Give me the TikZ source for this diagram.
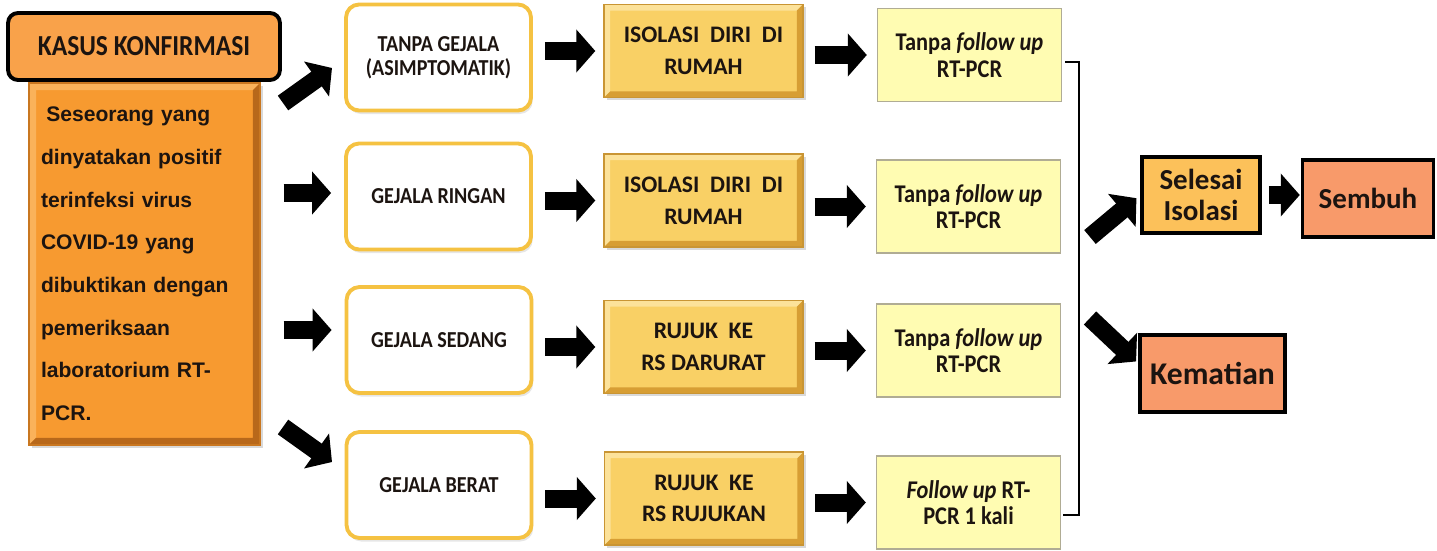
\documentclass[tikz,border=0pt]{standalone}
\usepackage{fontspec}
\setmainfont{Carlito}
\newfontfamily\narrowcal[FakeStretch=0.88]{Carlito}
\newfontfamily\descfont{Liberation Sans}
\usetikzlibrary{arrows.meta,shadows,calc}
\definecolor{ttlfill}{HTML}{F9A24A}
\definecolor{descfill}{HTML}{F79A30}
\definecolor{desclight}{HTML}{FAB25A}
\definecolor{descdark}{HTML}{B8681A}
\definecolor{descedge}{HTML}{C97720}
\definecolor{wbedge}{HTML}{F5C242}
\definecolor{goldfill}{HTML}{F9D065}
\definecolor{goldlight}{HTML}{FCE29A}
\definecolor{golddark}{HTML}{D79E34}
\definecolor{goldedge}{HTML}{C99534}
\definecolor{lyfill}{HTML}{FFFCB2}
\definecolor{lyedge}{HTML}{B0AC94}
\definecolor{selfill}{HTML}{FCC15A}
\definecolor{salfill}{HTML}{F89A6A}
\definecolor{txt}{HTML}{1C1410}
\begin{document}
\begin{tikzpicture}[x=0.02cm,y=-0.02cm,
  bevel/.style n args={3}{path picture={
    \def\bw{#3}
    \fill[#1] (path picture bounding box.south west) -- (path picture bounding box.north west)
      -- (path picture bounding box.north east) -- ([xshift=-\bw,yshift=-\bw]path picture bounding box.north east)
      -- ([xshift=\bw,yshift=-\bw]path picture bounding box.north west)
      -- ([xshift=\bw,yshift=\bw]path picture bounding box.south west) -- cycle;
    \fill[#2] (path picture bounding box.south west) -- (path picture bounding box.south east)
      -- (path picture bounding box.north east) -- ([xshift=-\bw,yshift=-\bw]path picture bounding box.north east)
      -- ([xshift=-\bw,yshift=\bw]path picture bounding box.south east)
      -- ([xshift=\bw,yshift=\bw]path picture bounding box.south west) -- cycle;
  }},
  titlebox/.style={draw=black, line width=2.2pt, fill=ttlfill, rounded corners=0.2cm,
    font=\narrowcal\fontsize{16.5}{18}\selectfont\bfseries, text=txt},
  descbox/.style={draw=descedge, line width=0.8pt, fill=descfill,
    bevel={desclight}{descdark}{4pt},
    drop shadow={shadow xshift=1.5pt, shadow yshift=-1.5pt, opacity=0.3},
    font=\descfont\bfseries\fontsize{12}{24.3}\selectfont, text=txt},
  whitebox/.style={draw=wbedge, line width=2.2pt, fill=white, rounded corners=0.26cm,
    minimum width=3.7cm, minimum height=2.12cm, align=center,
    drop shadow={shadow xshift=1pt, shadow yshift=-2pt, opacity=0.2},
    font=\narrowcal\fontsize{13}{13.5}\selectfont\bfseries, text=txt},
  goldbox/.style={draw=goldedge, line width=0.8pt, fill=goldfill,
    bevel={goldlight}{golddark}{3.5pt},
    minimum width=3.98cm, minimum height=1.86cm, align=center,
    drop shadow={shadow xshift=1.5pt, shadow yshift=-1.5pt, opacity=0.3},
    font=\fontsize{13.5}{18}\selectfont\bfseries, text=txt},
  lybox/.style={draw=lyedge, line width=0.8pt, fill=lyfill,
    minimum width=3.68cm, minimum height=1.86cm, align=center,
    font=\narrowcal\fontsize{14.5}{15}\selectfont\bfseries, text=txt},
  endbox/.style={draw=black, line width=2pt, align=center, text=txt},
  barrow/.style={line width=0.36cm, black, -{Triangle[length=0.38cm, width=0.84cm]}},
  bracket/.style={line width=1.6pt, black}
]
\useasboundingbox (0,0) rectangle (1437,551);

% left column
\node[descbox, minimum width=4.62cm, minimum height=7.24cm, text width=4.14cm,
  inner xsep=0.24cm, align=left] (desc) at (144.5,264)
  {\hspace{3pt}Seseorang yang\\ dinyatakan positif\\ terinfeksi virus\\ COVID-19 yang\\
   dibuktikan dengan\\ pemeriksaan\\ laboratorium RT-\\ PCR.};
\node[titlebox, minimum width=5.44cm, minimum height=1.34cm] (title) at (144,46.5)
  {KASUS KONFIRMASI};

% column 2
\node[whitebox] (c2a) at (438.5,57.5) {TANPA GEJALA\\(ASIMPTOMATIK)};
\node[whitebox] (c2b) at (438.5,196.5) {GEJALA RINGAN};
\node[whitebox] (c2c) at (439,340) {GEJALA SEDANG};
\node[whitebox] (c2d) at (439,485) {GEJALA BERAT};

% column 3
\node[goldbox] (c3a) at (703.5,51) {ISOLASI\ \ DIRI\ \ DI\\RUMAH};
\node[goldbox] (c3b) at (703.5,200.5) {ISOLASI\ \ DIRI\ \ DI\\RUMAH};
\node[goldbox] (c3c) at (703.5,347) {RUJUK\ \ KE\\RS DARURAT};
\node[goldbox] (c3d) at (704,498.5) {RUJUK\ \ KE\\RS RUJUKAN};

% column 4
\node[lybox] (c4a) at (969.5,55) {Tanpa \textit{follow up}\\RT-PCR};
\node[lybox] (c4b) at (968.5,206.5) {Tanpa \textit{follow up}\\RT-PCR};
\node[lybox] (c4c) at (968.5,350.5) {Tanpa \textit{follow up}\\RT-PCR};
\node[lybox] (c4d) at (968.5,502.5) {\textit{Follow up} RT-\\PCR 1 kali};

% outcomes
\node[endbox, fill=selfill, minimum width=2.36cm, minimum height=1.52cm,
  font=\fontsize{16.5}{18}\selectfont\bfseries] (sel) at (1201,195) {Selesai\\Isolasi};
\node[endbox, fill=salfill, minimum width=2.62cm, minimum height=1.54cm,
  font=\fontsize{16.5}{18}\selectfont\bfseries] (sem) at (1368,198.5) {Sembuh};
\node[endbox, fill=salfill, minimum width=2.9cm, minimum height=1.54cm,
  font=\fontsize{18}{20}\selectfont\bfseries] (kem) at (1212.5,373.5) {Kematian};

% arrows from the left column
\coordinate (a1s) at (283,103);
\coordinate (a1e) at (332,68);
\coordinate (a4s) at (283,427);
\coordinate (a4e) at (332,462);
\draw[barrow] (a1s) -- (a1e);
\draw[barrow, shorten <=0.46cm, shorten >=0.26cm] ([yshift=0.07cm]desc.east |- c2b.west) -- ([yshift=0.07cm]c2b.west);
\draw[barrow, shorten <=0.46cm, shorten >=0.26cm] ([yshift=0.2cm]desc.east |- c2c.west) -- ([yshift=0.2cm]c2c.west);
\draw[barrow] (a4s) -- (a4e);

% column 2 -> column 3
\foreach \a/\b in {c2a/c3a, c2b/c3b, c2c/c3c, c2d/c3d}
  \draw[barrow, shorten <=0.24cm, shorten >=0.16cm] (\a.east |- \b.west) -- (\b.west);
% column 3 -> column 4
\foreach \a/\b in {c3a/c4a, c3b/c4b, c3c/c4c, c3d/c4d}
  \draw[barrow, shorten <=0.22cm, shorten >=0.2cm] (\a.east |- \b.west) -- (\b.west);

% bracket
\coordinate (bt) at (1079,62);
\coordinate (bb) at (1079,515);
\draw[bracket] ([xshift=0.06cm]c4a.east |- bt) -- (bt) -- (bb) -- ([xshift=0.04cm]c4d.east |- bb);

% bracket -> outcomes
\coordinate (b1) at (1090,237);
\coordinate (b2) at (1090,318);
\draw[barrow, shorten >=0.1cm] (b1) -- (sel.west);
\draw[barrow, shorten >=0.06cm] (b2) -- ([yshift=0.2cm]kem.west);
\draw[barrow, shorten <=0.14cm, shorten >=0.02cm] (sel.east) -- (sel.east -| sem.west);
\end{tikzpicture}
\end{document}
